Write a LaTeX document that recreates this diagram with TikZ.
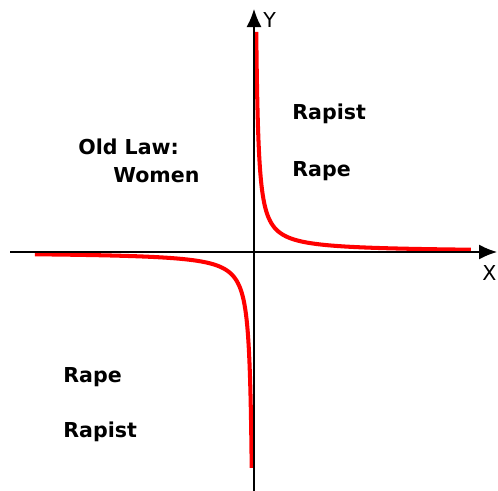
\documentclass[tikz,border=0pt]{standalone}
\usepackage{fontspec}
\setmainfont{DejaVu Sans}
\usetikzlibrary{arrows.meta}

\begin{document}
\begin{tikzpicture}[x=0.02cm,y=-0.02cm,>={Latex[length=0.36cm,width=0.3cm]},
  lbl/.style={font=\fontsize{11.7}{14}\selectfont\bfseries,inner sep=0pt,anchor=base west},
  axlbl/.style={font=\fontsize{11.7}{14}\selectfont,inner sep=0pt,anchor=base west},
  axis/.style={->,line width=0.8pt},
  branch/.style={red,line width=2.3pt,smooth}]
  \useasboundingbox (0,0) rectangle (498,491);
  % origin and axis ends (pixel grid, y down)
  \coordinate (O) at (254,252);
  \coordinate (Xl) at (10,252);
  \coordinate (Xr) at (497,252);
  \coordinate (Yb) at (254,491);
  \coordinate (Yt) at (254,9);
  % hyperbola y = k/x, both branches
  \draw[branch,shift={(O)}] plot[domain=0.82:5.38,samples=90,variable=\t] ({exp(\t)},{-500/exp(\t)});
  \draw[branch,shift={(O)}] plot[domain=0.84:5.39,samples=90,variable=\t] ({-exp(\t)},{500/exp(\t)});
  % axes
  \draw[axis] (Xl) -- (Xr);
  \draw[axis] (Yb) -- (Yt);
  \node[axlbl] (ylab) at (263,27) {Y};
  \node[axlbl] (xlab) at (482,280) {X};
  % quadrant labels
  \node[lbl] (rapistA) at (292,119) {Rapist};
  \node[lbl] (rapeA) at (292,176) {Rape};
  \node[lbl] (oldlaw) at (78,154) {Old Law:};
  \node[lbl] (women) at (113,182) {Women};
  \node[lbl] (rapeB) at (63,382) {Rape};
  \node[lbl] (rapistB) at (63,437) {Rapist};
\end{tikzpicture}
\end{document}
